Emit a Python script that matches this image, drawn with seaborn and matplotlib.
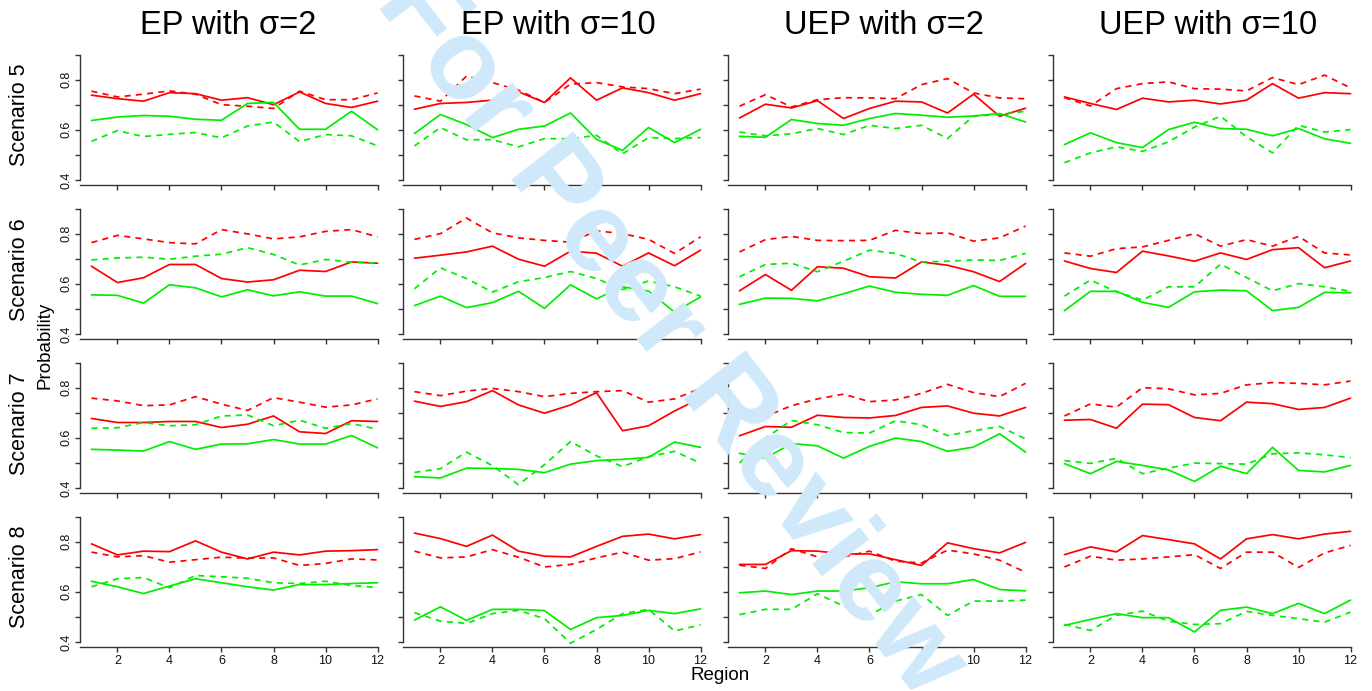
import numpy as np
import pandas as pd
import matplotlib
matplotlib.use("Agg")
import matplotlib.pyplot as plt
import seaborn as sns

sns.set_style("ticks")
plt.rcParams['font.family'] = ['Liberation Sans', 'DejaVu Sans']
plt.rcParams['text.color'] = 'black'

# --- data (probability per region) ---
regions = list(range(1, 13))
col_titles = ["EP with \u03c3=2", "EP with \u03c3=10", "UEP with \u03c3=2", "UEP with \u03c3=10"]
row_titles = ["Scenario 5", "Scenario 6", "Scenario 7", "Scenario 8"]

# Scenario 5
s5_ep2_red = [0.738, 0.724, 0.714, 0.748, 0.744, 0.718, 0.728, 0.700, 0.751, 0.705, 0.689, 0.714]
s5_ep2_red_d = [0.754, 0.731, 0.742, 0.755, 0.742, 0.700, 0.694, 0.685, 0.754, 0.720, 0.720, 0.747]
s5_ep2_green = [0.637, 0.651, 0.657, 0.654, 0.642, 0.638, 0.705, 0.709, 0.602, 0.602, 0.674, 0.600]
s5_ep2_green_d = [0.554, 0.597, 0.573, 0.582, 0.589, 0.568, 0.615, 0.631, 0.553, 0.581, 0.576, 0.536]

s5_ep10_red = [0.682, 0.705, 0.709, 0.718, 0.751, 0.709, 0.807, 0.718, 0.767, 0.748, 0.718, 0.744]
s5_ep10_red_d = [0.735, 0.714, 0.814, 0.788, 0.758, 0.709, 0.782, 0.788, 0.771, 0.764, 0.744, 0.762]
s5_ep10_green = [0.585, 0.661, 0.621, 0.569, 0.602, 0.615, 0.667, 0.562, 0.518, 0.609, 0.549, 0.602]
s5_ep10_green_d = [0.536, 0.609, 0.560, 0.561, 0.532, 0.565, 0.564, 0.578, 0.504, 0.569, 0.565, 0.569]

s5_uep2_red = [0.647, 0.702, 0.687, 0.716, 0.645, 0.685, 0.714, 0.711, 0.667, 0.742, 0.654, 0.686]
s5_uep2_red_d = [0.694, 0.740, 0.691, 0.720, 0.728, 0.727, 0.724, 0.780, 0.804, 0.747, 0.727, 0.724]
s5_uep2_green = [0.574, 0.570, 0.641, 0.625, 0.618, 0.645, 0.665, 0.658, 0.650, 0.655, 0.665, 0.631]
s5_uep2_green_d = [0.591, 0.576, 0.584, 0.605, 0.581, 0.618, 0.605, 0.618, 0.565, 0.655, 0.661, 0.674]

s5_uep10_red = [0.731, 0.705, 0.681, 0.726, 0.711, 0.718, 0.703, 0.718, 0.784, 0.726, 0.748, 0.744]
s5_uep10_red_d = [0.728, 0.695, 0.764, 0.784, 0.791, 0.764, 0.762, 0.755, 0.808, 0.780, 0.818, 0.767]
s5_uep10_green = [0.541, 0.588, 0.549, 0.529, 0.601, 0.630, 0.605, 0.602, 0.576, 0.605, 0.564, 0.546]
s5_uep10_green_d = [0.469, 0.508, 0.532, 0.514, 0.552, 0.611, 0.654, 0.572, 0.508, 0.618, 0.591, 0.601]

# Scenario 6
s6_ep2_red = [0.670, 0.605, 0.624, 0.677, 0.677, 0.621, 0.607, 0.616, 0.654, 0.649, 0.687, 0.682]
s6_ep2_red_d = [0.764, 0.793, 0.779, 0.764, 0.759, 0.816, 0.799, 0.779, 0.787, 0.809, 0.816, 0.787]
s6_ep2_green = [0.556, 0.554, 0.523, 0.596, 0.584, 0.548, 0.576, 0.552, 0.568, 0.551, 0.551, 0.521]
s6_ep2_green_d = [0.695, 0.703, 0.706, 0.698, 0.710, 0.718, 0.744, 0.717, 0.675, 0.697, 0.686, 0.683]

s6_ep10_red = [0.702, 0.714, 0.727, 0.750, 0.698, 0.670, 0.730, 0.722, 0.670, 0.723, 0.672, 0.734]
s6_ep10_red_d = [0.777, 0.800, 0.862, 0.803, 0.783, 0.773, 0.766, 0.811, 0.800, 0.777, 0.721, 0.787]
s6_ep10_green = [0.513, 0.551, 0.505, 0.525, 0.570, 0.502, 0.596, 0.540, 0.588, 0.571, 0.487, 0.548]
s6_ep10_green_d = [0.580, 0.664, 0.621, 0.567, 0.608, 0.625, 0.649, 0.621, 0.577, 0.611, 0.588, 0.551]

s6_uep2_red = [0.572, 0.637, 0.574, 0.668, 0.662, 0.628, 0.623, 0.687, 0.674, 0.648, 0.609, 0.681]
s6_uep2_red_d = [0.727, 0.776, 0.789, 0.773, 0.772, 0.773, 0.813, 0.800, 0.803, 0.770, 0.783, 0.830]
s6_uep2_green = [0.518, 0.543, 0.542, 0.532, 0.560, 0.591, 0.566, 0.558, 0.554, 0.593, 0.550, 0.550]
s6_uep2_green_d = [0.628, 0.677, 0.682, 0.648, 0.690, 0.734, 0.721, 0.687, 0.690, 0.695, 0.693, 0.721]

s6_uep10_red = [0.691, 0.661, 0.645, 0.730, 0.711, 0.690, 0.723, 0.697, 0.736, 0.744, 0.664, 0.691]
s6_uep10_red_d = [0.723, 0.710, 0.740, 0.747, 0.773, 0.800, 0.750, 0.776, 0.750, 0.789, 0.723, 0.715]
s6_uep10_green = [0.493, 0.570, 0.570, 0.526, 0.506, 0.568, 0.575, 0.572, 0.493, 0.506, 0.566, 0.564]
s6_uep10_green_d = [0.551, 0.615, 0.568, 0.535, 0.588, 0.588, 0.678, 0.625, 0.572, 0.601, 0.588, 0.570]

# Scenario 7
s7_ep2_red = [0.677, 0.661, 0.661, 0.665, 0.665, 0.641, 0.654, 0.687, 0.624, 0.617, 0.668, 0.665]
s7_ep2_red_d = [0.758, 0.747, 0.728, 0.731, 0.764, 0.734, 0.709, 0.760, 0.742, 0.722, 0.731, 0.755]
s7_ep2_green = [0.554, 0.551, 0.547, 0.585, 0.554, 0.575, 0.576, 0.593, 0.575, 0.575, 0.609, 0.560]
s7_ep2_green_d = [0.638, 0.640, 0.661, 0.648, 0.652, 0.687, 0.691, 0.648, 0.670, 0.638, 0.657, 0.634]

s7_ep10_red = [0.746, 0.725, 0.744, 0.788, 0.731, 0.698, 0.731, 0.780, 0.628, 0.648, 0.707, 0.758]
s7_ep10_red_d = [0.784, 0.768, 0.786, 0.797, 0.784, 0.764, 0.777, 0.784, 0.788, 0.742, 0.755, 0.797]
s7_ep10_green = [0.445, 0.440, 0.479, 0.478, 0.474, 0.461, 0.495, 0.509, 0.514, 0.522, 0.583, 0.562]
s7_ep10_green_d = [0.462, 0.477, 0.543, 0.489, 0.413, 0.493, 0.585, 0.528, 0.485, 0.525, 0.546, 0.499]

s7_uep2_red = [0.608, 0.645, 0.642, 0.690, 0.681, 0.679, 0.689, 0.721, 0.727, 0.698, 0.687, 0.721]
s7_uep2_red_d = [0.698, 0.685, 0.728, 0.755, 0.774, 0.744, 0.751, 0.777, 0.813, 0.780, 0.764, 0.817]
s7_uep2_green = [0.538, 0.519, 0.577, 0.568, 0.519, 0.566, 0.599, 0.585, 0.546, 0.563, 0.616, 0.543]
s7_uep2_green_d = [0.499, 0.599, 0.669, 0.652, 0.621, 0.619, 0.668, 0.652, 0.609, 0.628, 0.645, 0.596]

s7_uep10_red = [0.670, 0.673, 0.638, 0.734, 0.732, 0.681, 0.668, 0.742, 0.736, 0.713, 0.721, 0.758]
s7_uep10_red_d = [0.687, 0.735, 0.722, 0.800, 0.795, 0.771, 0.777, 0.811, 0.820, 0.817, 0.811, 0.826]
s7_uep10_green = [0.497, 0.457, 0.506, 0.490, 0.472, 0.426, 0.487, 0.457, 0.562, 0.470, 0.464, 0.490]
s7_uep10_green_d = [0.509, 0.498, 0.518, 0.457, 0.479, 0.499, 0.497, 0.495, 0.536, 0.540, 0.532, 0.521]

# Scenario 8
s8_ep2_red = [0.791, 0.747, 0.762, 0.760, 0.803, 0.758, 0.731, 0.758, 0.747, 0.762, 0.764, 0.768]
s8_ep2_red_d = [0.758, 0.739, 0.744, 0.718, 0.728, 0.738, 0.734, 0.735, 0.705, 0.713, 0.731, 0.727]
s8_ep2_green = [0.642, 0.620, 0.593, 0.623, 0.652, 0.636, 0.620, 0.607, 0.629, 0.629, 0.633, 0.636]
s8_ep2_green_d = [0.620, 0.652, 0.657, 0.616, 0.665, 0.660, 0.654, 0.636, 0.633, 0.642, 0.625, 0.617]

s8_ep10_red = [0.834, 0.812, 0.781, 0.826, 0.762, 0.742, 0.739, 0.781, 0.821, 0.830, 0.811, 0.828]
s8_ep10_red_d = [0.762, 0.735, 0.739, 0.768, 0.738, 0.699, 0.709, 0.735, 0.758, 0.726, 0.732, 0.759]
s8_ep10_green = [0.487, 0.540, 0.486, 0.530, 0.530, 0.525, 0.450, 0.497, 0.506, 0.526, 0.513, 0.532]
s8_ep10_green_d = [0.517, 0.483, 0.474, 0.513, 0.526, 0.493, 0.395, 0.450, 0.513, 0.530, 0.444, 0.468]

s8_uep2_red = [0.709, 0.709, 0.764, 0.762, 0.751, 0.751, 0.728, 0.705, 0.795, 0.772, 0.755, 0.797]
s8_uep2_red_d = [0.706, 0.693, 0.772, 0.739, 0.739, 0.762, 0.722, 0.715, 0.766, 0.751, 0.726, 0.678]
s8_uep2_green = [0.596, 0.603, 0.589, 0.603, 0.603, 0.616, 0.640, 0.632, 0.632, 0.649, 0.609, 0.604]
s8_uep2_green_d = [0.509, 0.530, 0.530, 0.592, 0.543, 0.507, 0.563, 0.589, 0.506, 0.563, 0.563, 0.567]

s8_uep10_red = [0.748, 0.779, 0.759, 0.824, 0.808, 0.791, 0.731, 0.811, 0.828, 0.811, 0.830, 0.841]
s8_uep10_red_d = [0.699, 0.742, 0.726, 0.731, 0.739, 0.748, 0.693, 0.758, 0.758, 0.697, 0.755, 0.785]
s8_uep10_green = [0.466, 0.490, 0.513, 0.497, 0.497, 0.440, 0.526, 0.539, 0.513, 0.554, 0.513, 0.567]
s8_uep10_green_d = [0.470, 0.446, 0.506, 0.523, 0.483, 0.470, 0.473, 0.522, 0.506, 0.493, 0.479, 0.519]

panels = [
    [(s5_ep2_red, s5_ep2_red_d, s5_ep2_green, s5_ep2_green_d),
     (s5_ep10_red, s5_ep10_red_d, s5_ep10_green, s5_ep10_green_d),
     (s5_uep2_red, s5_uep2_red_d, s5_uep2_green, s5_uep2_green_d),
     (s5_uep10_red, s5_uep10_red_d, s5_uep10_green, s5_uep10_green_d)],
    [(s6_ep2_red, s6_ep2_red_d, s6_ep2_green, s6_ep2_green_d),
     (s6_ep10_red, s6_ep10_red_d, s6_ep10_green, s6_ep10_green_d),
     (s6_uep2_red, s6_uep2_red_d, s6_uep2_green, s6_uep2_green_d),
     (s6_uep10_red, s6_uep10_red_d, s6_uep10_green, s6_uep10_green_d)],
    [(s7_ep2_red, s7_ep2_red_d, s7_ep2_green, s7_ep2_green_d),
     (s7_ep10_red, s7_ep10_red_d, s7_ep10_green, s7_ep10_green_d),
     (s7_uep2_red, s7_uep2_red_d, s7_uep2_green, s7_uep2_green_d),
     (s7_uep10_red, s7_uep10_red_d, s7_uep10_green, s7_uep10_green_d)],
    [(s8_ep2_red, s8_ep2_red_d, s8_ep2_green, s8_ep2_green_d),
     (s8_ep10_red, s8_ep10_red_d, s8_ep10_green, s8_ep10_green_d),
     (s8_uep2_red, s8_uep2_red_d, s8_uep2_green, s8_uep2_green_d),
     (s8_uep10_red, s8_uep10_red_d, s8_uep10_green, s8_uep10_green_d)],
]

series_keys = [("red", "solid"), ("red", "dashed"), ("green", "solid"), ("green", "dashed")]
palette = {"red": "#ff0000", "green": "#00ee00"}
dash_map = {"solid": "", "dashed": (3.5, 3)}

W, H = 1372, 691
fig = plt.figure(figsize=(W / 100, H / 100), dpi=100)

# watermark behind the panels
fig.text(0.488, 0.515, "For Peer Review", rotation=-52, fontsize=82, fontweight="bold",
         color="#cfe9fa", ha="center", va="center", zorder=0)

col_left = [80, 403, 728, 1053]
col_w = 309
row_top = [49.5, 203.5, 357.5, 511.5]
row_h = 135.5

for r in range(4):
    for c in range(4):
        ax = fig.add_axes([col_left[c] / W, 1 - (row_top[r] + row_h) / H, col_w / W, row_h / H])
        ax.set_facecolor("none")
        rows = []
        for vals, (col, sty) in zip(panels[r][c], series_keys):
            for x, v in zip(regions, vals):
                rows.append({"region": x, "prob": v, "color": col, "style": sty,
                             "series": col + sty})
        df = pd.DataFrame(rows)
        sns.lineplot(data=df, x="region", y="prob", hue="color", style="style",
                     units="series", estimator=None, palette=palette, dashes=dash_map,
                     linewidth=1.25, legend=False, ax=ax)
        ax.set_xlim(0.56, 12.44)
        ax.set_ylim(0.38, 0.92)
        ax.set_xlabel("")
        ax.set_ylabel("")
        for s in ["top", "right"]:
            ax.spines[s].set_visible(False)
        ax.spines["left"].set_bounds(0.4, 0.9)
        ax.spines["bottom"].set_bounds(0.56, 12)
        for s in ["left", "bottom"]:
            ax.spines[s].set_color("#333333")
            ax.spines[s].set_linewidth(1.0)
        ax.set_yticks([0.4, 0.5, 0.6, 0.7, 0.8, 0.9])
        ax.set_xticks([2, 4, 6, 8, 10, 12])
        ax.tick_params(axis="both", length=3.5, width=1.0, color="#333333",
                       labelsize=9, labelcolor="#111111", pad=2)
        if c == 0:
            ax.set_yticklabels(["0.4", "", "0.6", "", "0.8", ""], rotation=90, va="center")
        else:
            ax.set_yticklabels([])
        if r == 3:
            ax.set_xticklabels(["2", "4", "6", "8", "10", "12"])
        else:
            ax.set_xticklabels([])

title_x = [228, 558, 884, 1208]
for c in range(4):
    fig.text(title_x[c] / W, 1 - 26 / H, col_titles[c], fontsize=23.5, ha="center", va="center")

for r in range(4):
    fig.text(20 / W, 1 - (row_top[r] + row_h / 2 - 2) / H, row_titles[r], fontsize=15.5,
             rotation=90, ha="center", va="center")

fig.text(45 / W, 1 - 345 / H, "Probability", fontsize=13.5, rotation=90, ha="center", va="center")
fig.text(720 / W, 1 - 676 / H, "Region", fontsize=13.5, ha="center", va="center")

fig.savefig("out.png", dpi=100)
